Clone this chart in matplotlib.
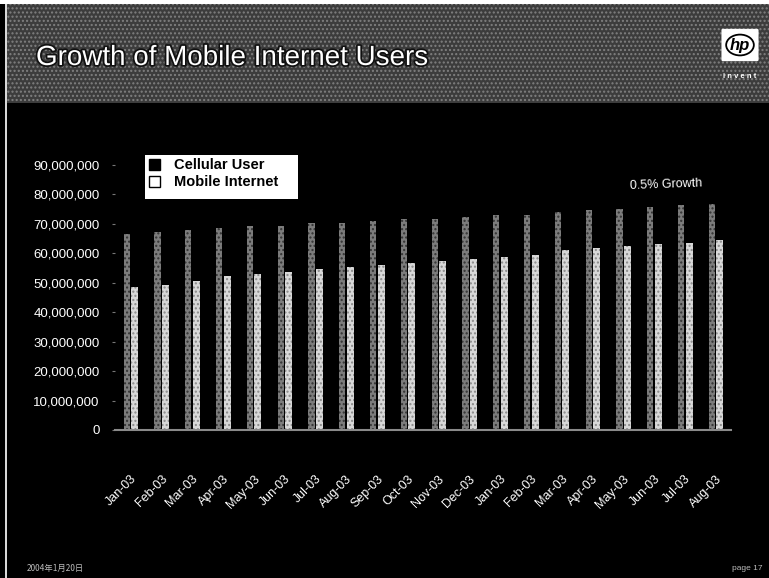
import matplotlib
matplotlib.use('Agg')
import matplotlib.pyplot as plt
import matplotlib.patheffects as pe
from matplotlib.patches import Patch, Rectangle, FancyBboxPatch, Circle
from matplotlib.ticker import FuncFormatter
from matplotlib.transforms import ScaledTranslation
import numpy as np

plt.rcParams['font.family'] = ['Liberation Sans', 'DejaVu Sans']

# monthly user counts, millions
months = ['Jan-03', 'Feb-03', 'Mar-03', 'Apr-03', 'May-03', 'Jun-03', 'Jul-03',
          'Aug-03', 'Sep-03', 'Oct-03', 'Nov-03', 'Dec-03', 'Jan-03', 'Feb-03',
          'Mar-03', 'Apr-03', 'May-03', 'Jun-03', 'Jul-03', 'Aug-03']
cellular = [66.5, 67.3, 67.9, 68.6, 69.3, 69.3, 70.1, 70.3, 70.8, 71.5,
            71.5, 72.4, 72.9, 72.9, 74.1, 74.6, 74.9, 75.8, 76.3, 76.6]
mobile = [48.6, 49.2, 50.7, 52.3, 52.9, 53.7, 54.5, 55.2, 55.9, 56.6,
          57.4, 58.0, 58.6, 59.3, 61.1, 61.7, 62.4, 63.0, 63.6, 64.5]
yticks = np.arange(0, 91, 10)

W, H = 769, 578
fig = plt.figure(figsize=(W / 100, H / 100), dpi=100, facecolor='black')

# slide background pieces (pixel coords -> figure fraction)
def px_rect(x0, y0, x1, y1, **kw):
    r = Rectangle((x0 / W, 1 - y1 / H), (x1 - x0) / W, (y1 - y0) / H,
                  transform=fig.transFigure, **kw)
    fig.patches.append(r)
    return r

px_rect(0, 0, W, 4, facecolor='white', edgecolor='none')
px_rect(6, 4, W, 103, facecolor='#3c3c3c', edgecolor='#808080', hatch='....', lw=0)
px_rect(5, 4, 6.5, H, facecolor='#d8d8d8', edgecolor='none')

fig.text(36 / W, 1 - 65 / H, 'Growth of Mobile Internet Users', color='white',
         fontsize=20, va='baseline', ha='left',
         path_effects=[pe.withStroke(linewidth=2.5, foreground='#111111')])

# hp logo
fig.patches.append(FancyBboxPatch((723 / W, 1 - 60 / H), 34 / W, 30 / H,
                                  boxstyle='round,pad=0.002', transform=fig.transFigure,
                                  facecolor='white', edgecolor='none'))
fig.patches.append(Circle((740 / W, 1 - 45 / H), 0.018, transform=fig.transFigure,
                          facecolor='none', edgecolor='black', lw=1.3))
fig.text(740 / W, 1 - 45.5 / H, 'hp', color='black', fontsize=12, fontweight='bold',
         style='italic', ha='center', va='center')
fig.text(740 / W, 1 - 76 / H, 'i n v e n t', color='white', fontsize=5.5,
         fontweight='bold', ha='center', va='center')

ax = fig.add_axes([115 / W, 1 - 430 / H, 616 / W, (430 - 164.7) / H])
ax.set_facecolor('black')

x = np.arange(len(months))
ax.bar(x - 0.12, cellular, width=0.2, color='#7c7c7c', edgecolor='#333333',
       hatch='....', lw=0, zorder=2)
ax.bar(x + 0.14, mobile, width=0.23, color='#d8d8d8', edgecolor='#8a8a8a',
       hatch='....', lw=0, zorder=2)

ax.set_xlim(-0.5, len(months) - 0.5)
ax.set_ylim(0, 90)
ax.set_yticks(yticks)
ax.yaxis.set_major_formatter(FuncFormatter(lambda v, p: f'{int(v * 1e6):,}'))
ax.set_xticks(x)
ax.set_xticklabels(months, rotation=45, ha='right', va='top', rotation_mode='anchor')
shift = ScaledTranslation(-7 / 72, 0, fig.dpi_scale_trans)
for lab in ax.get_xticklabels():
    lab.set_transform(lab.get_transform() + shift)

for s in ['top', 'right', 'left']:
    ax.spines[s].set_visible(False)
ax.spines['bottom'].set_color('#8a8a8a')
ax.spines['bottom'].set_linestyle((0, (2, 1)))
ax.spines['bottom'].set_linewidth(1.5)

ax.tick_params(axis='y', colors='#777777', labelcolor='white', labelsize=9.5,
               length=2, pad=9)
ax.tick_params(axis='x', length=0, labelcolor='white', labelsize=9, pad=31)

# legend box sits partly over the plot area
px_rect(145, 155, 298, 199, facecolor='white', edgecolor='none', zorder=3)
handles = [Patch(facecolor='black', edgecolor='black', label='Cellular User'),
           Patch(facecolor='white', edgecolor='black', label='Mobile Internet')]
leg = fig.legend(handles=handles, loc='upper left', bbox_to_anchor=(148 / W, 1 - 157 / H),
                 frameon=False, prop={'weight': 'bold', 'size': 10.5},
                 handlelength=0.75, handleheight=0.75, handletextpad=0.9,
                 borderpad=0.1, labelspacing=0.2, borderaxespad=0)
leg.set_zorder(4)
for t in leg.get_texts():
    t.set_color('black')

fig.text(666 / W, 1 - 185 / H, '0.5% Growth', color='white', fontsize=9,
         ha='center', va='center', rotation=2)

fig.text(27 / W, 1 - 568 / H, '2004年1月20日', color='#bbbbbb', fontsize=6,
         ha='left', va='center', family=['Noto Sans CJK JP', 'DejaVu Sans'])
fig.text(762 / W, 1 - 568 / H, 'page 17', color='#bbbbbb', fontsize=6,
         ha='right', va='center')

fig.savefig('out.png', dpi=100, facecolor='black')
